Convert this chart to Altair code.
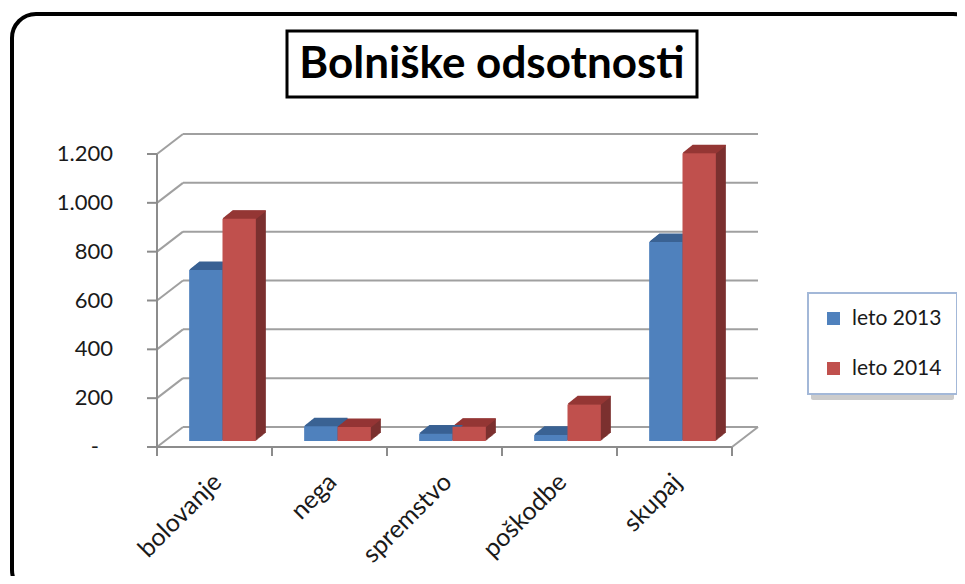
import altair as alt
import pandas as pd

# ---------------- data ----------------
categories = ["bolovanje", "nega", "spremstvo", "poškodbe", "skupaj"]
series = ["leto 2013", "leto 2014"]
values_2013 = [700, 60, 30, 25, 815]
values_2014 = [910, 57, 58, 150, 1178]
y_ticks = [0, 200, 400, 600, 800, 1000, 1200]
y_tick_labels = ["-", "200", "400", "600", "800", "1.000", "1.200"]
title_text = "Bolniške odsotnosti"

# ---------------- styles ----------------
FONT = "Lato"
front_colors = ["#4F81BD", "#C0504D"]
side_colors = ["#385D8A", "#7B302F"]
top_colors = ["#3A6293", "#943634"]
GRID = "#A0A0A0"
AXIS = "#8C8C8C"

W, H = 575, 293
DX, DY = 8, 6          # bar plane -> front plane
BX, BY = 18, -14       # bar plane -> back wall

rows = []
for s_i, (s, vals) in enumerate(zip(series, [values_2013, values_2014])):
    for c_i, (c, v) in enumerate(zip(categories, vals)):
        rows.append({"cat": c, "idx": c_i, "series": s, "sidx": s_i, "value": v})
bars_df = pd.DataFrame(rows)
ticks_df = pd.DataFrame({"v": y_ticks, "lab": y_tick_labels})
cats_df = pd.DataFrame({"cat": categories, "idx": list(range(len(categories)))})
bounds_df = pd.DataFrame({"b": list(range(len(categories) + 1))})
one = pd.DataFrame({"a": [0]})

xs = alt.Scale(domain=[0, len(categories)], nice=False, zero=False)
ys = alt.Scale(domain=[0, 1200], nice=False, zero=True)

bars = alt.Chart(bars_df).transform_calculate(
    x0="datum.idx + 0.21 + datum.sidx * 0.29",
    x1="datum.idx + 0.50 + datum.sidx * 0.29",
    base="0",
)

def bar_enc(ch, colors, legend=None):
    return ch.encode(
        x=alt.X("x0:Q", scale=xs, axis=None),
        x2="x1:Q",
        y=alt.Y("value:Q", scale=ys, axis=None, stack=None),
        y2="base:Q",
        color=alt.Color("series:N", scale=alt.Scale(domain=series, range=colors), legend=legend),
    )

layers = []

# outer rounded border (runs off the right and bottom edges, as in the reference)
layers.append(alt.Chart(one).mark_rect(fill="white", stroke="black", strokeWidth=4, cornerRadius=24).encode(
    x=alt.value(-153), x2=alt.value(812), y=alt.value(-134), y2=alt.value(446)))

# title box + title
layers.append(alt.Chart(one).mark_rect(fill="white", stroke="black", strokeWidth=3).encode(
    x=alt.value(122), x2=alt.value(532), y=alt.value(-117), y2=alt.value(-51)))
layers.append(alt.Chart(one).mark_text(text=title_text, font=FONT, fontSize=44, fontWeight="bold",
                                       color="black", align="center", baseline="middle").encode(
    x=alt.value(327), y=alt.value(-83)))

# legend shadow
layers.append(alt.Chart(one).mark_rect(fill="#CCCCCC", cornerRadius=2).encode(
    x=alt.value(646), x2=alt.value(789), y=alt.value(150), y2=alt.value(252)))

# back wall gridlines
layers.append(alt.Chart(ticks_df).mark_rule(color=GRID, strokeWidth=2, yOffset=BY).encode(
    x=alt.value(BX), x2=alt.value(W + BX), y=alt.Y("v:Q", scale=ys, axis=None)))
# left wall diagonals
layers.append(alt.Chart(ticks_df).mark_rule(color=GRID, strokeWidth=2, yOffset=DY, y2Offset=BY).encode(
    x=alt.value(-DX), x2=alt.value(BX), y=alt.Y("v:Q", scale=ys, axis=None), y2="v:Q"))
# y ticks
layers.append(alt.Chart(ticks_df).mark_rule(color=AXIS, strokeWidth=2, yOffset=DY).encode(
    x=alt.value(-DX - 10), x2=alt.value(-DX), y=alt.Y("v:Q", scale=ys, axis=None)))
# y labels (non-zero, then the accounting-style dash for zero)
layers.append(alt.Chart(ticks_df).transform_filter("datum.v > 0").mark_text(
    font=FONT, fontSize=22, color="#1a1a1a", align="right", baseline="middle", yOffset=DY).encode(
    x=alt.value(-52), y=alt.Y("v:Q", scale=ys, axis=None), text="lab:N"))
layers.append(alt.Chart(ticks_df).transform_filter("datum.v == 0").mark_text(
    font=FONT, fontSize=22, color="#1a1a1a", align="right", baseline="middle", yOffset=DY).encode(
    x=alt.value(-66), y=alt.Y("v:Q", scale=ys, axis=None), text="lab:N"))
# front y axis line
layers.append(alt.Chart(one).mark_rule(color=AXIS, strokeWidth=2).encode(
    x=alt.value(-DX), y=alt.value(DY), y2=alt.value(H + DY)))
# front x axis line
layers.append(alt.Chart(one).mark_rule(color=AXIS, strokeWidth=2).encode(
    x=alt.value(-DX), x2=alt.value(W - DX), y=alt.value(H + DY)))
# floor right diagonal
layers.append(alt.Chart(one).mark_rule(color=GRID, strokeWidth=2).encode(
    x=alt.value(W - DX), x2=alt.value(W + BX), y=alt.value(H + DY), y2=alt.value(H + BY)))
# x ticks
layers.append(alt.Chart(bounds_df).mark_rule(color=AXIS, strokeWidth=2, xOffset=-DX).encode(
    x=alt.X("b:Q", scale=xs, axis=None), y=alt.value(H + DY), y2=alt.value(H + DY + 9)))
# x labels
layers.append(alt.Chart(cats_df).transform_calculate(pos="datum.idx + 0.5").mark_text(
    font=FONT, fontSize=25, color="#1a1a1a", angle=315, align="right", baseline="middle",
    xOffset=-5).encode(
    x=alt.X("pos:Q", scale=xs, axis=None), y=alt.value(H + 37), text="cat:N"))

# 3D side faces (stacked shifted copies)
for k in range(1, 11):
    layers.append(bar_enc(bars.mark_rect(xOffset=k, x2Offset=k, yOffset=-0.8 * k, y2Offset=-0.8 * k),
                          side_colors))
# 3D top faces
for j in range(1, 17):
    d = j * 0.5
    layers.append(bars.mark_rule(strokeWidth=1.2, xOffset=1.25 * d, x2Offset=1.25 * d, yOffset=-d).encode(
        x=alt.X("x0:Q", scale=xs, axis=None),
        x2="x1:Q",
        y=alt.Y("value:Q", scale=ys, axis=None, stack=None),
        color=alt.Color("series:N", scale=alt.Scale(domain=series, range=top_colors), legend=None),
    ))
# front faces (with legend)
layers.append(bar_enc(bars.mark_rect(), front_colors, legend=alt.Legend(
    title=None, orient="none", legendX=643, legendY=145,
    symbolType="square", symbolSize=170, symbolStrokeWidth=0, symbolOpacity=1,
    labelFont=FONT, labelFontSize=21, labelColor="#1a1a1a", labelOffset=8,
    rowPadding=28, padding=15, fillColor="white", strokeColor="#A3B8D8",
)))

chart = alt.layer(*layers).resolve_scale(color="independent").properties(
    width=W, height=H,
    padding={"left": 157, "top": 140, "right": 217, "bottom": 135},
    autosize=alt.AutoSizeParams(type="none"),
    background="white",
).configure_view(stroke=None).configure_legend(strokeWidth=2)

chart.save("out.html", embed_options={"renderer": "svg", "actions": False})
